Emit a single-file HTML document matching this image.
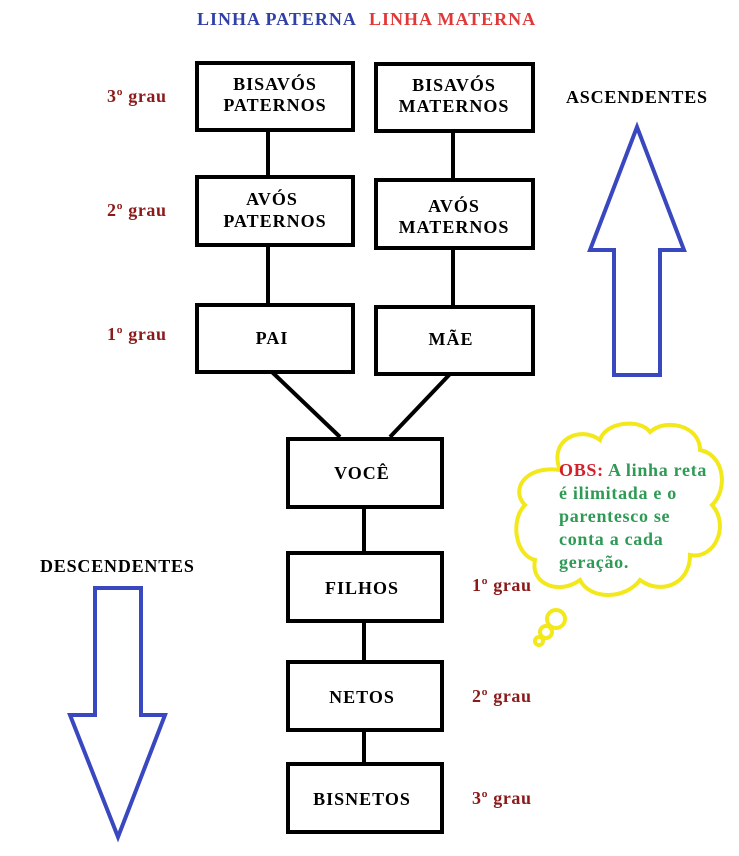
<!DOCTYPE html>
<html><head><meta charset="utf-8"><style>
body{margin:0;background:#fff;}
svg text{font-family:"Liberation Serif",serif;font-weight:bold;}
</style></head><body>
<svg width="739" height="851" xmlns="http://www.w3.org/2000/svg">
<g font-size="18" letter-spacing="1">
<text x="197" y="25" fill="#3040a8">LINHA PATERNA</text>
<text x="369" y="25" fill="#e03838">LINHA MATERNA</text>
</g>
<g stroke="#000" stroke-width="4" fill="none">
<line x1="268" y1="130" x2="268" y2="175"/>
<line x1="268" y1="245" x2="268" y2="303"/>
<line x1="453" y1="131" x2="453" y2="178"/>
<line x1="453" y1="248" x2="453" y2="305"/>
<line x1="272" y1="372" x2="340" y2="437"/>
<line x1="450" y1="374" x2="390" y2="437"/>
<line x1="364" y1="507" x2="364" y2="551"/>
<line x1="364" y1="621" x2="364" y2="660"/>
<line x1="364" y1="730" x2="364" y2="762"/>
<rect x="197" y="63" width="156" height="67"/>
<rect x="376" y="64" width="157" height="67"/>
<rect x="197" y="177" width="156" height="68"/>
<rect x="376" y="180" width="157" height="68"/>
<rect x="197" y="305" width="156" height="67"/>
<rect x="376" y="307" width="157" height="67"/>
<rect x="288" y="439" width="154" height="68"/>
<rect x="288" y="553" width="154" height="68"/>
<rect x="288" y="662" width="154" height="68"/>
<rect x="288" y="764" width="154" height="68"/>
</g>
<g font-size="18" letter-spacing="1" fill="#000" text-anchor="middle">
<text x="275" y="90">BISAVÓS</text><text x="275" y="111">PATERNOS</text>
<text x="454" y="91">BISAVÓS</text><text x="454" y="112">MATERNOS</text>
<text x="272" y="205">AVÓS</text><text x="275" y="227">PATERNOS</text>
<text x="454" y="212">AVÓS</text><text x="454" y="233">MATERNOS</text>
<text x="272" y="344">PAI</text>
<text x="451" y="345">MÃE</text>
<text x="362" y="479">VOCÊ</text>
<text x="362" y="594">FILHOS</text>
<text x="362" y="703">NETOS</text>
<text x="362" y="805">BISNETOS</text>
</g>
<g font-size="18" letter-spacing="0.6" fill="#8b1a1a">
<text x="107" y="102">3º grau</text>
<text x="107" y="216">2º grau</text>
<text x="107" y="340">1º grau</text>
<text x="472" y="591">1º grau</text>
<text x="472" y="702">2º grau</text>
<text x="472" y="804">3º grau</text>
</g>
<g font-size="18" letter-spacing="0.8" fill="#000">
<text x="566" y="103">ASCENDENTES</text>
<text x="40" y="572">DESCENDENTES</text>
</g>
<g stroke="#3a48c0" stroke-width="4" fill="#fff">
<polygon points="637,127 684,250 660,250 660,375 614,375 614,250 590,250"/>
<polygon points="95,588 141,588 141,715 165,715 118,837 70,715 95,715"/>
</g>
<g stroke="#f2e81a" stroke-width="4" fill="#fff">
<path d="M560,470 C548,440 580,425 600,440 C605,422 640,418 650,432 C665,418 700,425 700,450 C725,455 728,490 712,505 C730,525 715,560 690,555 C690,585 660,595 640,580 C625,600 590,600 580,580 C560,595 530,585 535,560 C515,555 510,520 525,505 C510,490 525,465 560,470 Z"/>
<circle cx="556" cy="619" r="9"/>
<circle cx="546" cy="632" r="6"/>
<circle cx="539" cy="641" r="4"/>
</g>
<g font-size="18" letter-spacing="0.7">
<text x="559" y="476" fill="#d4202a">OBS: <tspan fill="#2e9a55">A linha reta</tspan></text>
<text x="559" y="499" fill="#2e9a55">é ilimitada e o</text>
<text x="559" y="522" fill="#2e9a55">parentesco se</text>
<text x="559" y="545" fill="#2e9a55">conta a cada</text>
<text x="559" y="568" fill="#2e9a55">geração.</text>
</g>
</svg>
</body></html>
